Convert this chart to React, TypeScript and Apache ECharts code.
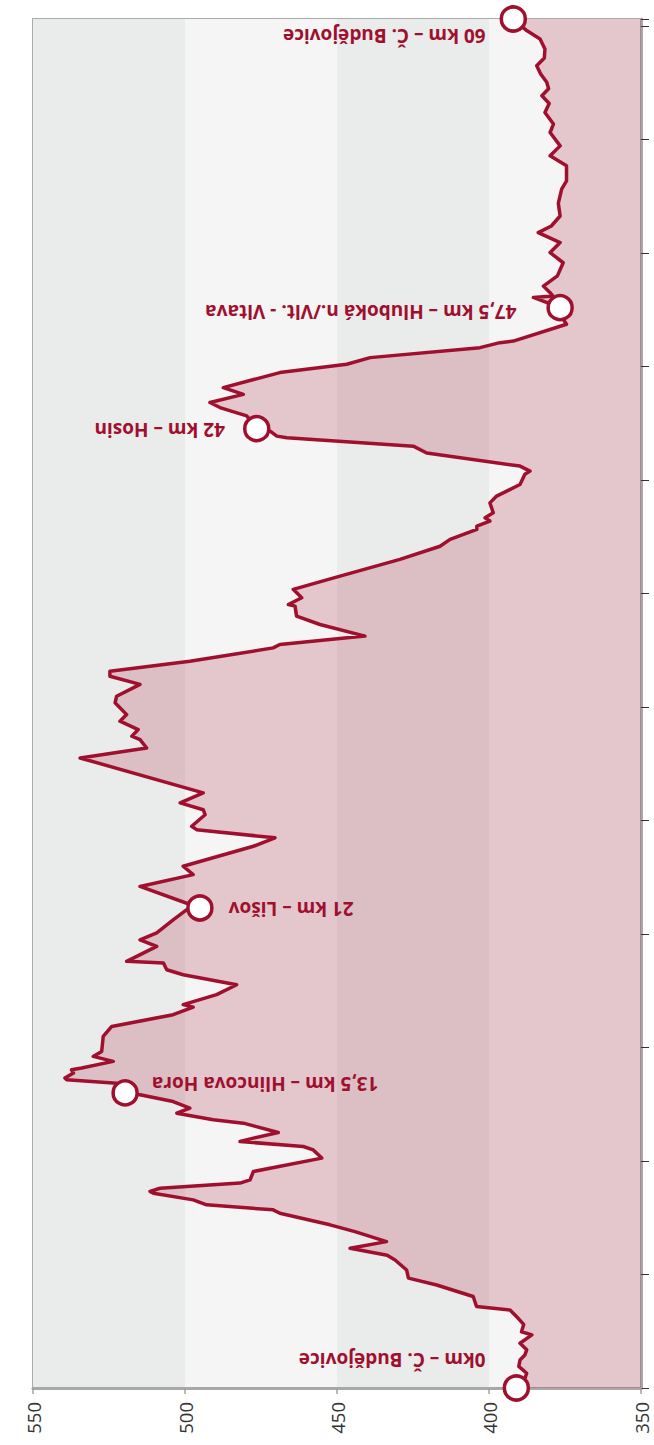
import React, { useEffect, useRef } from 'react';
import * as echarts from 'echarts';

const distanceKm = [
  0, 0.3, 0.65, 0.95, 1.23, 1.45, 1.68, 1.97, 2.34, 2.48, 2.8, 3.07, 3.44, 3.59, 4.03, 4.54, 4.84, 5.2, 5.64, 5.85,
  6.16, 6.45, 6.89, 7.19, 7.7, 7.85, 8.07, 8.29, 8.58, 8.66, 8.8, 9.03, 9.17, 9.54, 10.13, 10.49, 10.64, 10.86, 11.01, 11.26,
  11.67, 11.82, 12.11, 12.33, 12.62, 12.92, 13.0, 13.43, 13.58, 13.66, 13.88, 14.02, 14.1, 14.39, 14.61, 14.83, 15.49, 15.93, 16.45, 16.78,
  16.89, 17.33, 17.77, 18.21, 18.43, 18.73, 18.8, 19.46, 19.75, 20.05, 20.63, 21.08, 21.15, 22.1, 22.62, 22.99, 23.87, 24.24, 24.6, 24.75,
  25.26, 25.48, 25.78, 26.22, 27.76, 28.2, 28.57, 28.72, 29.01, 29.38, 29.67, 30.19, 30.48, 31.0, 31.36, 31.58, 32.02, 32.61, 32.76, 33.13,
  33.64, 34.01, 34.45, 34.52, 34.82, 35.19, 35.77, 36.51, 37.09, 37.39, 37.83, 37.98, 38.2, 38.34, 38.56, 39.0, 39.3, 39.81, 40.26, 40.4,
  40.62, 41.2, 41.5, 41.87, 41.94, 42.16, 42.27, 42.83, 43.2, 43.42, 43.78, 44.08, 44.74, 45.11, 45.4, 45.84, 46.06, 46.13, 46.87, 47.09,
  47.6, 48.05, 48.12, 48.26, 48.55, 49.0, 49.58, 50.03, 50.47, 50.91, 51.2, 51.64, 52.2, 52.82, 53.19, 53.85, 54.29, 54.73, 55.32, 55.69,
  56.2, 56.6, 56.94, 57.25, 57.53, 57.9, 58.26, 58.6, 59.0, 59.44, 59.81, 60.32,
];

const elevationM = [
  391, 388.5, 387.6, 390.2, 389.8, 388.2, 387.6, 389.8, 385.9, 389.3, 388.6, 390.4, 393.1, 404.1, 405.2, 417.2, 426.5, 427.1, 430.9, 433.5,
  445.7, 433.7, 444.1, 452.3, 468.8, 471, 492.9, 497.3, 510.4, 511.5, 508.2, 481.9, 478.6, 477.5, 455, 457.8, 461.1, 481.9, 477.5, 469.3,
  480.8, 490.7, 502.7, 498.4, 503.9, 514.8, 519.7, 522.5, 538.9, 539.5, 536.7, 537.3, 534, 523.6, 530.2, 527.4, 526.9, 524.1, 503.9, 497.3,
  500.6, 489.6, 483, 500.6, 506, 507.1, 519.2, 509.3, 514.8, 509.3, 503.9, 499.4, 495.1, 514.8, 497.3, 500.6, 477.5, 470.4, 496.2, 497.8,
  493.4, 494, 501.6, 494, 534.5, 512.6, 514.8, 517.5, 515.4, 521.4, 519.2, 523, 522.5, 514.8, 524.7, 524.7, 498.4, 471, 468.8, 440.8,
  455.6, 463.3, 463.8, 466, 461.6, 464.4, 449, 429.3, 416.1, 412.8, 404, 404, 399.7, 401.3, 398.6, 399.7, 397.5, 389.8, 388.2, 386.5,
  389.8, 420.5, 424.9, 466.5, 469.8, 472, 476.4, 479.7, 488.5, 491.8, 480.8, 487.4, 468.8, 446.8, 439.1, 403, 396.4, 392, 374.5, 375.6,
  376.6, 385.4, 379, 379.9, 382.1, 377.5, 375.6, 379.9, 376.6, 383.8, 379.5, 376.6, 377.2, 376.1, 374.5, 374.5, 379.9, 376.6, 379.9, 378.8,
  381.6, 380.2, 382.6, 380.4, 381, 383, 384.3, 381.8, 381.6, 383.2, 387.6, 392,
];

const stopNames = [
  '0km – Č. Budějovice',
  '13,5 km – Hlincova Hora',
  '21 km – Lišov',
  '42 km – Hosin',
  '47,5 km – Hluboká n./Vlt. - Vltava',
  '60 km – Č. Budějovice',
];
const stopKm = [0, 13.0, 21.15, 42.27, 47.6, 60.32];
const stopElev = [391, 519.7, 495.1, 476.4, 376.6, 392];

const elevationMin = 350;
const elevationMax = 550;
const elevationStep = 50;
const distanceStep = 5;

// label layout (styles), one per stop; dy is the on-screen vertical shift
const stopLabelLayout = [
  { side: 'left', distance: 17, dy: -28 },
  { side: 'right', distance: 13, dy: -9 },
  { side: 'right', distance: 15, dy: 1 },
  { side: 'left', distance: 18, dy: 1 },
  { side: 'left', distance: 30, dy: 4 },
  { side: 'left', distance: 14, dy: 17 },
];

const RED = '#a0102e';

export default function App() {
  const ref = useRef<HTMLDivElement>(null);
  useEffect(() => {
    const chart = echarts.init(ref.current!, null, { renderer: 'svg' });
    const profile = distanceKm.map((d, i) => [elevationM[i], d]);
    const last = distanceKm.length - 1;
    chart.setOption({
      animation: false,
      backgroundColor: '#ffffff',
      grid: {
        left: 33,
        right: 13,
        top: 19,
        bottom: 57,
        show: true,
        borderColor: '#ababab',
        borderWidth: 2,
        backgroundColor: 'transparent',
      },
      xAxis: {
        type: 'value',
        inverse: true,
        min: elevationMin,
        max: elevationMax,
        interval: elevationStep,
        position: 'bottom',
        axisLine: { show: true, lineStyle: { color: '#a8a8a8', width: 3 } },
        axisTick: { show: true, length: 6, lineStyle: { color: '#a0a0a0', width: 1.5 } },
        axisLabel: {
          rotate: 90,
          margin: 14,
          fontSize: 18.5,
          fontFamily: 'Open Sans',
          color: '#333333',
        },
        splitLine: { show: false },
        splitArea: { show: true, areaStyle: { color: ['#f5f5f5', '#eaeceb'] } },
      },
      yAxis: {
        type: 'value',
        min: 0,
        max: distanceKm[last],
        interval: distanceStep,
        position: 'right',
        axisLine: { show: true, lineStyle: { color: '#a8a8a8', width: 3 } },
        axisTick: { show: true, length: 8, lineStyle: { color: '#333333', width: 1 } },
        axisLabel: { show: false },
        splitLine: { show: false },
      },
      series: [
        {
          type: 'custom',
          silent: true,
          z: 1,
          clip: true,
          data: profile,
          renderItem: (params: any, api: any) => {
            if (params.dataIndex !== 0) return null;
            const pts = distanceKm.map((d, i) => api.coord([elevationM[i], d]));
            pts.push(api.coord([elevationMin, distanceKm[last]]));
            pts.push(api.coord([elevationMin, distanceKm[0]]));
            return {
              type: 'polygon',
              shape: { points: pts },
              style: { fill: 'rgba(160,16,46,0.2)', stroke: 'none' },
            };
          },
        },
        {
          type: 'line',
          z: 2,
          data: profile,
          symbol: 'none',
          smooth: false,
          clip: false,
          lineStyle: { color: RED, width: 3.5, join: 'round', cap: 'round' },
        },
        {
          type: 'scatter',
          z: 3,
          clip: false,
          symbol: 'circle',
          symbolSize: 24,
          itemStyle: { color: '#ffffff', borderColor: RED, borderWidth: 3.5, opacity: 1 },
          label: {
            show: true,
            formatter: '{b}',
            rotate: 180,
            verticalAlign: 'middle',
            color: RED,
            fontSize: 19,
            fontWeight: 'bold',
            fontFamily: 'Open Sans',
          },
          data: stopNames.map((name, i) => {
            const lay = stopLabelLayout[i];
            return {
              name,
              value: [stopElev[i], stopKm[i]],
              label: {
                position: lay.side,
                distance: lay.distance,
                align: lay.side === 'left' ? 'left' : 'right',
                // the offset is applied in the label's rotated frame
                offset: [0, -lay.dy],
              },
            };
          }),
        },
      ],
    });
    return () => chart.dispose();
  }, []);
  return (
    <div
      ref={ref}
      style={{ position: 'absolute', left: 0, top: 0, width: 654, height: 1445 }}
    />
  );
}
